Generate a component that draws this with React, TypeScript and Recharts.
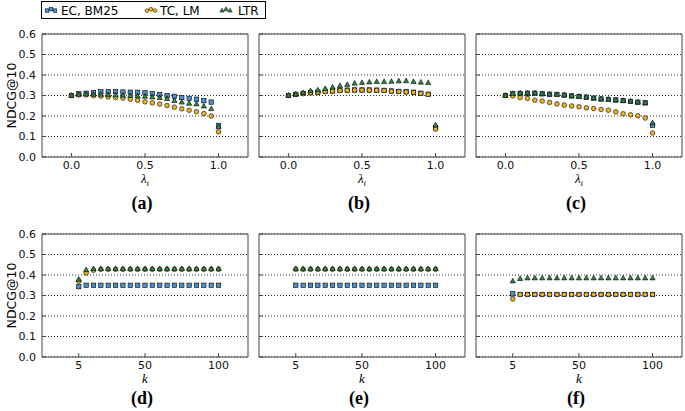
import React from 'react'
import { CartesianGrid, Legend, Scatter, ScatterChart, XAxis, YAxis } from 'recharts'

// x values
const lambdas = [0, 0.05, 0.1, 0.15, 0.2, 0.25, 0.3, 0.35, 0.4, 0.45, 0.5, 0.55, 0.6, 0.65, 0.7, 0.75, 0.8, 0.85, 0.9, 0.95, 1.0]
const ks = [5, 10, 15, 20, 25, 30, 35, 40, 45, 50, 55, 60, 65, 70, 75, 80, 85, 90, 95, 100]

// (a)
const ecA = [0.300, 0.308, 0.311, 0.315, 0.318, 0.318, 0.319, 0.317, 0.316, 0.316, 0.313, 0.309, 0.305, 0.300, 0.296, 0.290, 0.286, 0.282, 0.275, 0.268, 0.154]
const tcA = [0.300, 0.303, 0.303, 0.299, 0.297, 0.293, 0.290, 0.287, 0.282, 0.277, 0.269, 0.264, 0.258, 0.251, 0.243, 0.235, 0.228, 0.221, 0.212, 0.200, 0.123]
const ltrA = [0.300, 0.305, 0.306, 0.305, 0.305, 0.303, 0.302, 0.300, 0.299, 0.297, 0.295, 0.292, 0.289, 0.284, 0.275, 0.267, 0.261, 0.258, 0.248, 0.235, 0.147]

// (b)
const ecB = [0.300, 0.305, 0.310, 0.314, 0.316, 0.320, 0.322, 0.325, 0.326, 0.327, 0.327, 0.327, 0.326, 0.325, 0.322, 0.320, 0.318, 0.316, 0.311, 0.306, 0.143]
const tcB = [0.300, 0.305, 0.309, 0.313, 0.315, 0.319, 0.321, 0.324, 0.325, 0.326, 0.326, 0.326, 0.325, 0.324, 0.321, 0.319, 0.317, 0.315, 0.310, 0.305, 0.136]
const ltrB = [0.300, 0.306, 0.313, 0.322, 0.326, 0.333, 0.340, 0.347, 0.353, 0.359, 0.362, 0.365, 0.367, 0.367, 0.368, 0.370, 0.371, 0.367, 0.364, 0.362, 0.155]

// (c)
const ecC = [0.300, 0.308, 0.310, 0.311, 0.311, 0.308, 0.306, 0.305, 0.302, 0.298, 0.295, 0.292, 0.287, 0.283, 0.281, 0.278, 0.275, 0.271, 0.267, 0.264, 0.155]
const tcC = [0.300, 0.298, 0.290, 0.286, 0.277, 0.273, 0.266, 0.259, 0.253, 0.249, 0.245, 0.240, 0.236, 0.232, 0.228, 0.220, 0.211, 0.206, 0.201, 0.190, 0.117]
const ltrC = [0.300, 0.309, 0.311, 0.312, 0.312, 0.309, 0.306, 0.305, 0.302, 0.298, 0.295, 0.292, 0.288, 0.283, 0.281, 0.278, 0.275, 0.272, 0.268, 0.264, 0.166]

// (d)
const ecD = [0.343, 0.350, 0.350, 0.350, 0.350, 0.350, 0.350, 0.350, 0.350, 0.350, 0.350, 0.350, 0.350, 0.350, 0.350, 0.350, 0.350, 0.350, 0.350, 0.350]
const tcD = [0.370, 0.410, 0.423, 0.428, 0.428, 0.428, 0.428, 0.428, 0.428, 0.428, 0.428, 0.428, 0.428, 0.428, 0.428, 0.428, 0.428, 0.428, 0.428, 0.428]
const ltrD = [0.378, 0.425, 0.430, 0.430, 0.430, 0.430, 0.430, 0.430, 0.430, 0.430, 0.430, 0.430, 0.430, 0.430, 0.430, 0.430, 0.430, 0.430, 0.430, 0.430]

// (e)
const ecE = [0.350, 0.350, 0.350, 0.350, 0.350, 0.350, 0.350, 0.350, 0.350, 0.350, 0.350, 0.350, 0.350, 0.350, 0.350, 0.350, 0.350, 0.350, 0.350, 0.350]
const tcE = [0.428, 0.428, 0.428, 0.428, 0.428, 0.428, 0.428, 0.428, 0.428, 0.428, 0.428, 0.428, 0.428, 0.428, 0.428, 0.428, 0.428, 0.428, 0.428, 0.428]
const ltrE = [0.430, 0.430, 0.430, 0.430, 0.430, 0.430, 0.430, 0.430, 0.430, 0.430, 0.430, 0.430, 0.430, 0.430, 0.430, 0.430, 0.430, 0.430, 0.430, 0.430]

// (f)
const ecF = [0.308, 0.305, 0.305, 0.305, 0.305, 0.305, 0.305, 0.305, 0.305, 0.305, 0.305, 0.305, 0.305, 0.305, 0.305, 0.305, 0.305, 0.305, 0.305, 0.305]
const tcF = [0.283, 0.305, 0.305, 0.305, 0.305, 0.305, 0.305, 0.305, 0.305, 0.305, 0.305, 0.305, 0.305, 0.305, 0.305, 0.305, 0.305, 0.305, 0.305, 0.305]
const ltrF = [0.370, 0.382, 0.385, 0.385, 0.385, 0.385, 0.385, 0.385, 0.385, 0.385, 0.385, 0.385, 0.385, 0.385, 0.385, 0.385, 0.385, 0.385, 0.385, 0.385]

const yTicks = [0, 0.1, 0.2, 0.3, 0.4, 0.5, 0.6]
const lambdaTicks = [0, 0.5, 1.0]
const kTicks = [5, 50, 100]

const seriesNames = ['EC, BM25', 'TC, LM', 'LTR']

const FONT = '"DejaVu Sans", sans-serif'
const SERIF = '"Liberation Serif", "DejaVu Serif", serif'
const BLUE = '#4a8fd4'
const YELLOW = '#f2b124'
const GREEN = '#2e8b40'
const FRAME = '#444'

const PLOT_W = 206
const PLOT_H = 123
const Y_AXIS_W = 42
const TOP_PAD = 10 // space above the plot inside each chart svg

const square = (props: any) => (
  <rect x={props.cx - 2.2} y={props.cy - 2.2} width={4.4} height={4.4} fill={BLUE} stroke="#000" strokeWidth={0.6} />
)
const circle = (props: any) => (
  <circle cx={props.cx} cy={props.cy} r={2.3} fill={YELLOW} stroke="#000" strokeWidth={0.6} />
)
const triangle = (props: any) => (
  <path
    d={`M${props.cx},${props.cy - 2.9}L${props.cx + 2.6},${props.cy + 1.8}L${props.cx - 2.6},${props.cy + 1.8}Z`}
    fill={GREEN}
    stroke="#000"
    strokeWidth={0.6}
  />
)

const LegendBox = () => (
  <svg width={226} height={19} style={{ display: 'block' }}>
    <rect x={0.5} y={0.5} width={224} height={17} fill="#fff" stroke="#000" strokeWidth={1} />
    {[6, 10, 14].map((x, i) => (
      <rect key={`s${i}`} x={x - 1.8} y={9 - 1.8 + (i === 1 ? -0.8 : 0.6)} width={3.6} height={3.6} fill={BLUE} stroke="#000" strokeWidth={0.5} />
    ))}
    {[106, 110, 114].map((x, i) => (
      <circle key={`c${i}`} cx={x} cy={9 + (i === 1 ? -0.8 : 0.6)} r={1.9} fill={YELLOW} stroke="#000" strokeWidth={0.5} />
    ))}
    {[181, 185, 189].map((x, i) => {
      const cy = 9 + (i === 1 ? -0.8 : 0.6)
      return (
        <path key={`t${i}`} d={`M${x},${cy - 2.4}L${x + 2.2},${cy + 1.5}L${x - 2.2},${cy + 1.5}Z`} fill={GREEN} stroke="#000" strokeWidth={0.5} />
      )
    })}
    <text x={20} y={13.5} fontFamily={FONT} fontSize={12} fill="#000">{seriesNames[0]}</text>
    <text x={119} y={13.5} fontFamily={FONT} fontSize={12} fill="#000">{seriesNames[1]}</text>
    <text x={197} y={13.5} fontFamily={FONT} fontSize={12} fill="#000">{seriesNames[2]}</text>
  </svg>
)

type PanelProps = {
  left: number
  top: number // page y of the plot's top edge
  xs: number[]
  ec: number[]
  tc: number[]
  ltr: number[]
  kind: 'lambda' | 'k'
  tag: string
  tagDy: number
  showY: boolean
  legend?: boolean
}

const Panel = ({ left, top, xs, ec, tc, ltr, kind, tag, tagDy, showY, legend }: PanelProps) => {
  const toPts = (ys: number[]) => xs.map((x, i) => ({ x, y: ys[i] }))
  const isLambda = kind === 'lambda'
  const xDomain = isLambda ? [-0.2, 1.2] : [-20, 120]
  const xTicks = isLambda ? lambdaTicks : kTicks
  const xFmt = (v: number) => (isLambda ? v.toFixed(1) : `${v}`)
  const tickStyle = { fill: '#111', fontSize: 11, fontFamily: FONT }

  const renderXLabel = (props: any) => {
    const vb = props.viewBox || {}
    const cx = vb.x + vb.width / 2
    const by = vb.y + 26
    return (
      <g>
        <text x={cx} y={by} textAnchor="middle" fontFamily={SERIF} fontStyle="italic" fontSize={13} fill="#000">
          {isLambda ? 'λ' : 'k'}
          {isLambda && (
            <tspan fontSize={8} dy={2.5}>
              t
            </tspan>
          )}
        </text>
        <text x={cx - 3} y={by + tagDy} textAnchor="middle" fontFamily={SERIF} fontWeight="bold" fontSize={18} fill="#000">
          {tag}
        </text>
      </g>
    )
  }

  const renderYLabel = (props: any) => {
    const vb = props.viewBox || {}
    const cy = vb.y + vb.height / 2
    return (
      <text
        x={11.5}
        y={cy}
        transform={`rotate(-90 11.5 ${cy})`}
        textAnchor="middle"
        dominantBaseline="central"
        fontFamily={FONT}
        fontSize={12.5}
        fill="#000"
      >
        NDCG@10
      </text>
    )
  }

  return (
    <div style={{ position: 'absolute', left, top: top - TOP_PAD }}>
      <ScatterChart
        width={Y_AXIS_W + PLOT_W + 1 + 3}
        height={TOP_PAD + PLOT_H + 58}
        margin={{ top: TOP_PAD - 1, right: 3, bottom: 18, left: 0 }}
      >
        <CartesianGrid xAxisId="b" yAxisId="l" vertical={false} stroke="#000" strokeDasharray="1 2" strokeWidth={0.8} />
        <XAxis
          xAxisId="b"
          dataKey="x"
          type="number"
          domain={xDomain}
          ticks={xTicks}
          interval={0}
          tickFormatter={xFmt}
          tickSize={-4}
          tickMargin={8}
          height={40}
          stroke={FRAME}
          tick={tickStyle}
          label={{ content: renderXLabel }}
        />
        <XAxis
          xAxisId="t"
          orientation="top"
          type="number"
          domain={xDomain}
          ticks={xTicks}
          interval={0}
          tickFormatter={() => ''}
          tickSize={-4}
          height={1}
          stroke={FRAME}
        />
        <YAxis
          yAxisId="l"
          dataKey="y"
          type="number"
          domain={[0, 0.6]}
          ticks={yTicks}
          interval={0}
          tickFormatter={(v: number) => (showY ? v.toFixed(1) : '')}
          tickSize={-4}
          tickMargin={10}
          width={Y_AXIS_W}
          stroke={FRAME}
          tick={tickStyle}
          label={showY ? { content: renderYLabel } : undefined}
        />
        <YAxis
          yAxisId="r"
          orientation="right"
          type="number"
          domain={[0, 0.6]}
          ticks={yTicks}
          interval={0}
          tickFormatter={() => ''}
          tickSize={-4}
          width={1}
          stroke={FRAME}
        />
        {legend && (
          <Legend
            layout="horizontal"
            verticalAlign="middle"
            align="center"
            wrapperStyle={{ left: 41, top: 1 - (top - TOP_PAD), width: 226, height: 19 }}
            content={() => <LegendBox />}
          />
        )}
        <Scatter name={seriesNames[0]} xAxisId="b" yAxisId="l" data={toPts(ec)} fill={BLUE} shape={square} isAnimationActive={false} />
        <Scatter name={seriesNames[1]} xAxisId="b" yAxisId="l" data={toPts(tc)} fill={YELLOW} shape={circle} isAnimationActive={false} />
        <Scatter name={seriesNames[2]} xAxisId="b" yAxisId="l" data={toPts(ltr)} fill={GREEN} shape={triangle} isAnimationActive={false} />
      </ScatterChart>
    </div>
  )
}

export default function App() {
  return (
    <div style={{ position: 'absolute', left: 0, top: 0, width: 685, height: 411, overflow: 'hidden', background: '#fff' }}>
      <Panel left={0} top={34} xs={lambdas} ec={ecA} tc={tcA} ltr={ltrA} kind="lambda" tag="(a)" tagDy={26} showY legend />
      <Panel left={217} top={34} xs={lambdas} ec={ecB} tc={tcB} ltr={ltrB} kind="lambda" tag="(b)" tagDy={26} showY={false} />
      <Panel left={434} top={34} xs={lambdas} ec={ecC} tc={tcC} ltr={ltrC} kind="lambda" tag="(c)" tagDy={26} showY={false} />
      <Panel left={0} top={234} xs={ks} ec={ecD} tc={tcD} ltr={ltrD} kind="k" tag="(d)" tagDy={21} showY />
      <Panel left={217} top={234} xs={ks} ec={ecE} tc={tcE} ltr={ltrE} kind="k" tag="(e)" tagDy={21} showY={false} />
      <Panel left={434} top={234} xs={ks} ec={ecF} tc={tcF} ltr={ltrF} kind="k" tag="(f)" tagDy={21} showY={false} />
    </div>
  )
}
